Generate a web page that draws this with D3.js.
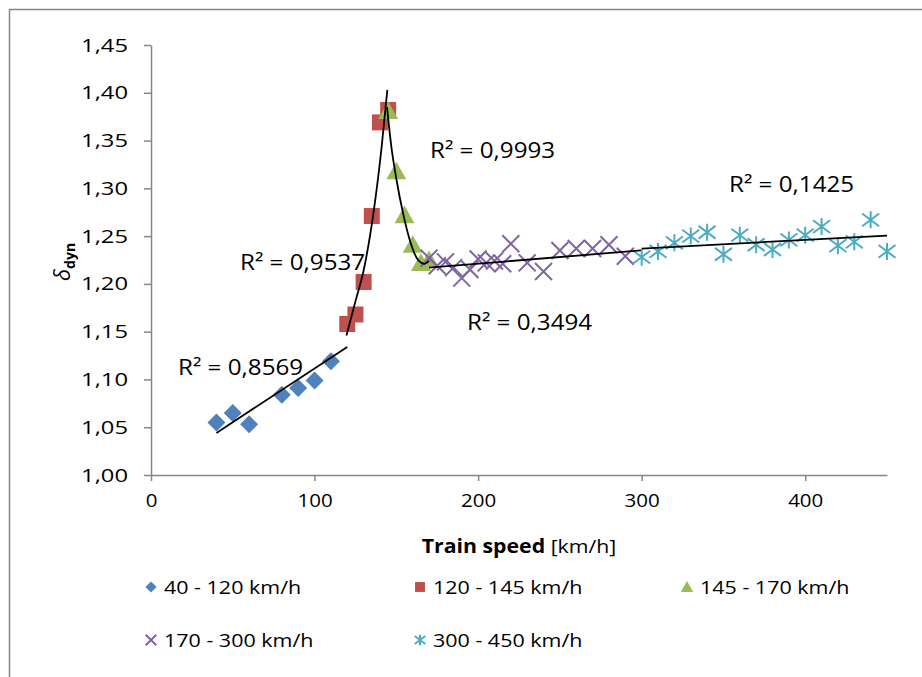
<!DOCTYPE html>
<html>
<head>
<meta charset="utf-8">
<script src="https://cdn.jsdelivr.net/npm/d3@7"></script>
<style>
  body { margin: 0; background: #fff; }
  svg text { font-family: "Open Sans", sans-serif; fill: #000; }
</style>
</head>
<body>
<svg id="chart" width="922" height="677"></svg>
<script>
// series: speed [km/h] and delta_dyn
const speed1 = [40, 50, 60, 80, 90, 100, 110];
const delta1 = [1.055, 1.065, 1.053, 1.084, 1.091, 1.099, 1.119];

const speed2 = [120, 125, 130, 135, 140, 145];
const delta2 = [1.158, 1.168, 1.202, 1.271, 1.369, 1.382];

const speed3 = [145, 150, 155, 160, 165, 170];
const delta3 = [1.381, 1.318, 1.272, 1.241, 1.222, 1.225];

const speed4 = [170, 175, 180, 185, 190, 195, 200, 205, 210, 215, 220, 230, 240, 250, 260, 270, 280, 290];
const delta4 = [1.227, 1.219, 1.223, 1.217, 1.206, 1.215, 1.226, 1.222, 1.224, 1.221, 1.242, 1.222, 1.213, 1.235, 1.237, 1.237, 1.241, 1.229];

const speed5 = [300, 310, 320, 330, 340, 350, 360, 370, 380, 390, 400, 410, 420, 430, 440, 450];
const delta5 = [1.228, 1.234, 1.243, 1.250, 1.254, 1.231, 1.251, 1.241, 1.236, 1.246, 1.251, 1.260, 1.240, 1.244, 1.267, 1.234];

// trend lines
const trend1 = [[40, 1.044], [120, 1.134]];
const trend2 = [[119.5, 1.146], [125.2, 1.183], [130, 1.214], [136, 1.274], [141, 1.343], [144.5, 1.403]];
const trend3 = [[144.3, 1.385], [147, 1.343], [150.1, 1.309], [154.1, 1.274], [158.2, 1.246], [163.3, 1.225], [167.2, 1.221], [170, 1.224]];
const trend4 = [[170, 1.217], [299.5, 1.235]];
const trend5 = [[300, 1.237], [450, 1.2505]];

const seriesNames = ["40 - 120 km/h", "120 - 145 km/h", "145 - 170 km/h", "170 - 300 km/h", "300 - 450 km/h"];
const rSquared = ["0,8569", "0,9537", "0,9993", "0,3494", "0,1425"];

const xTicks = [0, 100, 200, 300, 400];
const yTicks = [1.00, 1.05, 1.10, 1.15, 1.20, 1.25, 1.30, 1.35, 1.40, 1.45];

const COLORS = ['#4F81BD', '#C0504D', '#9BBB59', '#8064A2', '#4BACC6'];
const AXIS = '#868686';

const svg = d3.select('#chart');

// the source font is a wide one, so text gets stretched sideways a bit
function stretch (sel, sx, x0, y0) {
    sel.attr('transform', 'translate(' + x0 + ',' + y0 + ') scale(' + sx + ',1)');
}

// chart area border
svg.append('rect')
    .attr('x', 9.5).attr('y', 9.5)
    .attr('width', 940).attr('height', 700)
    .attr('fill', 'none')
    .attr('stroke', AXIS)
    .attr('stroke-width', 1.5);

const x = d3.scaleLinear().domain([0, 450]).range([151, 887]);
const y = d3.scaleLinear().domain([1, 1.45]).range([475, 45]);

// axes
const xAxis = svg.append('g')
    .attr('transform', 'translate(0,475)')
    .call(d3.axisBottom(x).tickValues(xTicks).tickSize(6).tickSizeOuter(0).tickPadding(13));
const yAxis = svg.append('g')
    .attr('transform', 'translate(151,0)')
    .call(d3.axisLeft(y).tickValues(yTicks).tickSize(7).tickSizeOuter(0)
        .tickFormat(d => d3.format('.2f')(d).replace('.', ',')));

[xAxis, yAxis].forEach(ax => {
    ax.select('.domain').attr('stroke', AXIS).attr('stroke-width', 1.5);
    ax.selectAll('.tick line').attr('stroke', AXIS).attr('stroke-width', 1.5);
    ax.selectAll('.tick text')
        .attr('fill', '#000')
        .attr('font-family', '"Open Sans", sans-serif')
        .attr('font-size', 19);
});
yAxis.selectAll('.tick text').attr('x', 0).each(function () {
    stretch(d3.select(this), 1.25, -23, 0);
});
xAxis.selectAll('.tick text').each(function () {
    stretch(d3.select(this), 1.08, 0, 0);
});

// axis titles
const xTitle = svg.append('text')
    .attr('text-anchor', 'middle')
    .attr('font-size', 19);
stretch(xTitle, 1.12, 519, 553);
xTitle.append('tspan').attr('font-weight', 'bold').text('Train speed');
xTitle.append('tspan').text(' [km/h]');

const yTitle = svg.append('text')
    .attr('transform', 'translate(70,262) rotate(-90)')
    .attr('text-anchor', 'middle')
    .attr('font-size', 22);
yTitle.append('tspan').attr('font-style', 'italic').text('δ');
yTitle.append('tspan').attr('font-size', 14).attr('font-weight', 'bold').attr('dy', 5).text('dyn');

// marker shapes
function markerPath (kind, s) {
    const p = d3.path();
    if (kind === 0) {            // diamond
        p.moveTo(0, -s); p.lineTo(s, 0); p.lineTo(0, s); p.lineTo(-s, 0); p.closePath();
    } else if (kind === 1) {     // square
        p.rect(-s, -s, 2 * s, 2 * s);
    } else if (kind === 2) {     // triangle
        p.moveTo(0, -s); p.lineTo(s * 1.05, s * 0.85); p.lineTo(-s * 1.05, s * 0.85); p.closePath();
    } else if (kind === 3) {     // x
        p.moveTo(-s, -s); p.lineTo(s, s); p.moveTo(-s, s); p.lineTo(s, -s);
    } else {                     // star
        p.moveTo(-s, -s * 0.75); p.lineTo(s, s * 0.75);
        p.moveTo(-s, s * 0.75); p.lineTo(s, -s * 0.75);
        p.moveTo(0, -s); p.lineTo(0, s);
    }
    return p.toString();
}

const MARKER_SIZE = [9, 8, 9.5, 8.5, 8.5];

function drawMarkers (g, kind, pts, scale) {
    const isStroke = kind >= 3;
    g.selectAll('path')
        .data(pts)
        .enter()
        .append('path')
        .attr('transform', d => 'translate(' + d[0] + ',' + d[1] + ')')
        .attr('d', markerPath(kind, MARKER_SIZE[kind] * scale))
        .attr('fill', isStroke ? 'none' : COLORS[kind])
        .attr('stroke', COLORS[kind])
        .attr('stroke-width', isStroke ? 2 : 0);
}

const speeds = [speed1, speed2, speed3, speed4, speed5];
const deltas = [delta1, delta2, delta3, delta4, delta5];
const trends = [trend1, trend2, trend3, trend4, trend5];

speeds.forEach((sp, i) => {
    const pts = sp.map((v, j) => [x(v), y(deltas[i][j])]);
    drawMarkers(svg.append('g').attr('class', 'series' + i), i, pts, 1);
});

// trend lines on top
const line = d3.line()
    .x(d => x(d[0]))
    .y(d => y(d[1]))
    .curve(d3.curveMonotoneX);

trends.forEach(t => {
    svg.append('path')
        .datum(t)
        .attr('d', line)
        .attr('fill', 'none')
        .attr('stroke', '#000')
        .attr('stroke-width', 1.8);
});

// R² labels
const R2_POS = [[178, 375], [240, 270], [430, 158], [467, 330], [729, 192]];
rSquared.forEach((r, i) => {
    const t = svg.append('text')
        .attr('font-size', 22)
        .text('R² = ' + r);
    stretch(t, 1.1, R2_POS[i][0], R2_POS[i][1]);
});

// legend
const LEGEND_POS = [[151, 587], [420, 587], [687, 587], [151, 640], [420, 640]];
seriesNames.forEach((name, i) => {
    const g = svg.append('g').attr('transform', 'translate(' + LEGEND_POS[i][0] + ',' + LEGEND_POS[i][1] + ')');
    drawMarkers(g, i, [[0, 0]], 0.62);
    const t = g.append('text')
        .attr('dy', '0.35em')
        .attr('font-size', 19)
        .text(name);
    stretch(t, 1.13, 13, 0);
});
</script>
</body>
</html>
